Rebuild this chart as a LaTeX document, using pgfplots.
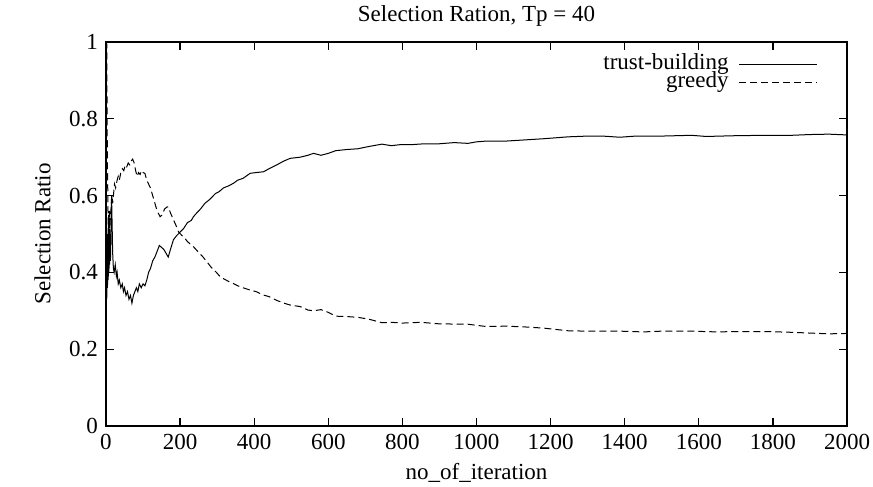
\documentclass[border=0pt]{standalone}
\usepackage{pgfplots}
\pgfplotsset{compat=1.18}
\usepackage{fontspec}
\setmainfont{Liberation Serif}
\begin{document}
\fontsize{11.5}{13}\selectfont
\begin{tikzpicture}
\begin{axis}[
  name=ax,
  scale only axis,
  width=370.5pt, height=192pt,
  xmin=0, xmax=2000, ymin=0, ymax=1,
  xtick={0,200,...,2000},
  ytick={0,0.2,0.4,0.6,0.8,1},
  yticklabels={0,0.2,0.4,0.6,0.8,1},
  scaled x ticks=false,
  /pgf/number format/assume math mode=true,
  /pgf/number format/1000 sep={},
  tick align=inside,
  major tick length=4pt,
  axis line style={line width=0.8pt},
  every tick/.style={black, line width=0.6pt},
  title={Selection Ration, Tp = 40},
  title style={at={(axis description cs:0.5,1.036)}, anchor=center},
  xlabel={no\_of\_iteration},
  xlabel style={at={(axis description cs:0.5,-0.1224)}, anchor=center},
  ylabel={Selection Ratio},
  ylabel style={at={(axis description cs:-0.0856,0.5)}, anchor=center},
  legend style={at={(rel axis cs:1,1)}, anchor=north east, xshift=-14.5pt, yshift=-7pt,
    draw=none, fill=none, inner sep=0pt, row sep=1pt, column sep=5pt,
    nodes={inner sep=0pt, text height=6.5pt, text depth=1.5pt}},
  legend cell align=right,
  legend plot pos=right,
  legend image code/.code={\draw[#1] (0pt,0pt) -- (39pt,0pt);},
]
\addplot[black, line width=0.5pt] coordinates {
(0,0.33)(1,0.5)(2,0.33)(3,0.5)(4,0.36)(5,0.5)(6,0.38)(7,0.5)(8,0.4)(9,0.5)(10,0.42)(11,0.5)(12,0.43)(13,0.48)(15,0.6)(16,0.55)(18,0.45)(20,0.41)(22,0.4)(25,0.42)(28,0.39)(30,0.40)(33,0.37)(36,0.38)(40,0.36)(44,0.37)(47,0.35)(50,0.36)(54,0.34)(58,0.35)(62,0.33)(66,0.34)(70,0.32)(74,0.34)(78,0.35)(82,0.36)(86,0.35)(90,0.37)(95,0.36)(100,0.37)(105,0.365)(110,0.38)(115,0.40)(120,0.41)(126,0.43)(132,0.44)(138,0.455)(144,0.47)(150,0.465)(156,0.46)(162,0.45)(168,0.44)(174,0.46)(182,0.485)(190,0.495)(200,0.505)(210,0.515)(220,0.53)(230,0.535)(236,0.545)(245,0.555)(255,0.565)(267,0.58)(280,0.59)(295,0.605)(305,0.61)(317,0.62)(330,0.625)(344,0.632)(355,0.64)(370,0.645)(389,0.658)(405,0.66)(425,0.662)(440,0.67)(461,0.68)(480,0.69)(497,0.697)(524,0.70)(545,0.705)(560,0.71)(580,0.705)(600,0.71)(620,0.717)(650,0.72)(680,0.722)(710,0.728)(745,0.734)(770,0.73)(797,0.733)(830,0.733)(860,0.735)(900,0.735)(940,0.738)(977,0.736)(1000,0.74)(1027,0.742)(1080,0.742)(1130,0.745)(1180,0.748)(1247,0.753)(1300,0.755)(1340,0.755)(1387,0.752)(1430,0.755)(1500,0.755)(1580,0.757)(1620,0.754)(1700,0.756)(1780,0.757)(1850,0.757)(1900,0.759)(1951,0.760)(2000,0.758)
};
\addlegendentry{trust-building}
\addplot[black, line width=0.5pt, dash pattern=on 3.5pt off 2pt] coordinates {
(0,1)(2,1.0)(3,0.8)(4,0.67)(5,0.6)(6,0.5)(7,0.55)(8,0.5)(9,0.56)(10,0.5)(12,0.55)(14,0.57)(16,0.6)(18,0.58)(20,0.6)(23,0.63)(26,0.62)(30,0.64)(33,0.65)(36,0.64)(40,0.66)(44,0.67)(48,0.665)(52,0.68)(56,0.675)(60,0.685)(64,0.68)(68,0.69)(72,0.695)(76,0.685)(80,0.665)(84,0.65)(88,0.66)(92,0.655)(96,0.665)(100,0.66)(105,0.658)(110,0.64)(115,0.63)(120,0.62)(126,0.60)(132,0.58)(138,0.56)(146,0.545)(152,0.55)(158,0.565)(164,0.57)(168,0.571)(174,0.555)(182,0.537)(190,0.52)(196,0.505)(204,0.497)(212,0.49)(220,0.48)(236,0.467)(250,0.452)(262,0.44)(272,0.428)(285,0.412)(298,0.4)(308,0.389)(320,0.382)(332,0.376)(344,0.371)(356,0.365)(370,0.36)(389,0.354)(405,0.35)(425,0.341)(440,0.337)(461,0.327)(480,0.32)(497,0.315)(524,0.311)(545,0.302)(560,0.30)(580,0.303)(600,0.296)(620,0.286)(650,0.285)(680,0.283)(710,0.278)(745,0.269)(770,0.27)(800,0.268)(850,0.27)(900,0.266)(977,0.265)(1027,0.259)(1080,0.26)(1130,0.258)(1180,0.255)(1247,0.248)(1300,0.247)(1387,0.247)(1450,0.245)(1500,0.247)(1580,0.247)(1650,0.245)(1700,0.246)(1780,0.246)(1850,0.244)(1951,0.240)(2000,0.241)
};
\addlegendentry{greedy}
\end{axis}
\pgfresetboundingbox
\path ([xshift=-53pt,yshift=-30.5pt]ax.south west) rectangle ([xshift=13pt,yshift=21pt]ax.north east);
\end{tikzpicture}
\end{document}
